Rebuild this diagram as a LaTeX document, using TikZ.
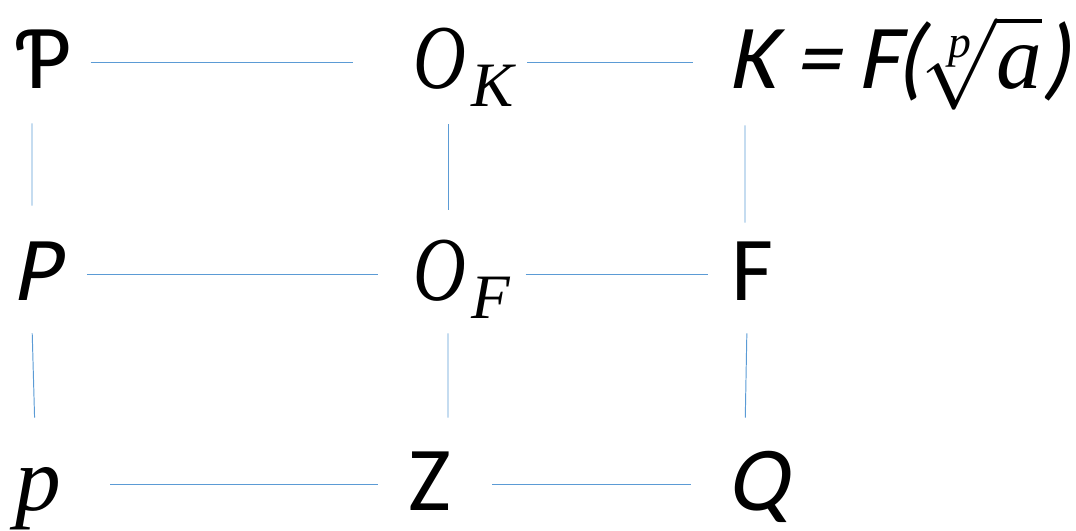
\RequirePackage{fix-cm}
\documentclass[tikz,border=0pt]{standalone}
\usepackage{graphicx}
\usepackage{fontspec}
\setmainfont{Carlito}
\newfontfamily\itsans{Carlito}[FakeSlant=0.2]
\newfontfamily\cambr{Liberation Serif Italic}
\newcommand{\bigO}{\scalebox{0.8}[1]{\cambr O}}
\newcommand{\subs}[1]{\hspace{0.06em}\raisebox{-0.2em}{\fontsize{36}{40}\selectfont\cambr #1}}
\definecolor{linkblue}{RGB}{91,155,213}
\tikzset{
  term/.style={
    inner sep=0pt, anchor=base west, text height=1.54cm, text depth=0.5cm,
    font=\fontsize{52}{60}\selectfont
  },
  link/.style={
    draw=linkblue, line width=0.55pt
  }
}
\begin{document}
\begin{tikzpicture}[x=0.02cm, y=-0.02cm]
  \useasboundingbox (0,0) rectangle (1076,531);

  % top row
  \node[term] (bigP) at (15,88)  {Ƥ};
  \node[term] (OK)   at (413,88) {\bigO\subs{K}};
  \node[term] (K)    at (728,88)
    {\itsans K\hspace{0.2em}=\hspace{0.2em}F\hspace{-0.05em}($\sqrt[\hbox{\fontsize{26}{26}\selectfont\cambr p}]{\hbox{\cambr a}}$)};

  % middle row
  \node[term] (P)  at (12,300)  {\itsans P};
  \node[term] (OF) at (413,300) {\bigO\subs{F}};
  \node[term] (F)  at (731,300) {F};

  % bottom row
  \node[term] (p) at (15,510)  {\cambr p};
  \node[term] (Z) at (408,510) {Z};
  \node[term] (Q) at (726,510) {\itsans Q};

  % horizontal links
  \draw[link, shorten <=0.38cm, shorten >=1.2cm]  (bigP.east) -- (OK.west);
  \draw[link, shorten <=0.26cm, shorten >=0.7cm]  (OK.east)   -- (K.west);
  \draw[link, shorten <=0.54cm, shorten >=0.7cm]  (P.east)    -- (OF.west);
  \draw[link, shorten <=0.3cm, shorten >=0.46cm]  (OF.east)   -- (F.west);
  \draw[link, shorten <=0.98cm, shorten >=0.6cm]  (p.east)    -- (Z.west);
  \draw[link, shorten <=0.82cm, shorten >=0.7cm]  (Z.east)    -- (Q.west);

  % vertical links
  \draw[link, shorten <=0.2cm, shorten >=0.34cm]
    ([xshift=0.34cm]bigP.south west) -- ([xshift=0.4cm]P.north west);
  \draw[link, shorten <=0.16cm, shorten >=0.3cm]
    ([xshift=0.4cm]P.south west) -- ([xshift=0.4cm]p.north west);
  \draw[link, shorten <=0.22cm, shorten >=0.26cm]
    ([xshift=0.7cm]OK.south west) -- ([xshift=0.7cm]OF.north west);
  \draw[link, shorten <=0.16cm, shorten >=0.3cm]
    ([xshift=0.7cm]OF.south west) -- ([xshift=0.8cm]Z.north west);
  \draw[link, shorten <=0.24cm, shorten >=0.0cm]
    ([xshift=0.34cm]K.south west) -- ([xshift=0.28cm]F.north west);
  \draw[link, shorten <=0.16cm, shorten >=0.3cm]
    ([xshift=0.32cm]F.south west) -- ([xshift=0.38cm]Q.north west);
\end{tikzpicture}
\end{document}
